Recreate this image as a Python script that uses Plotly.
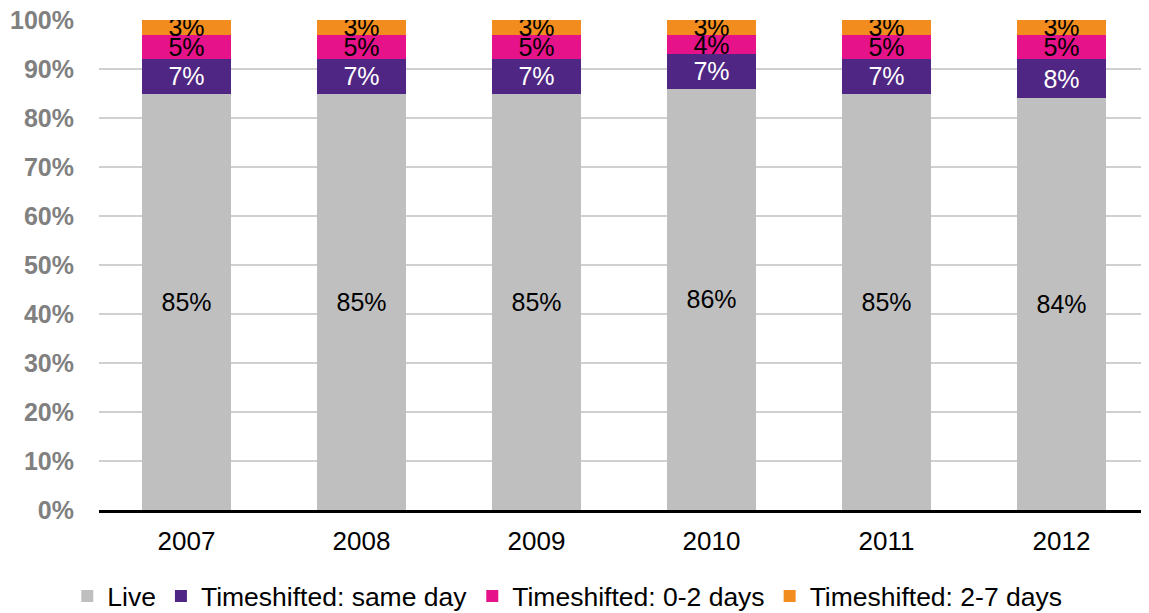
import plotly.graph_objects as go

years = ["2007", "2008", "2009", "2010", "2011", "2012"]
live = [85, 85, 85, 86, 85, 84]
same_day = [7, 7, 7, 7, 7, 8]
days_0_2 = [5, 5, 5, 4, 5, 5]
days_2_7 = [3, 3, 3, 3, 3, 3]

series = [
    ("Live", live, "#bfbfbf", "black"),
    ("Timeshifted: same day", same_day, "#4f2683", "white"),
    ("Timeshifted: 0-2 days", days_0_2, "#e6128a", "black"),
    ("Timeshifted: 2-7 days", days_2_7, "#f28c1e", "black"),
]

FONT = "Liberation Sans, Arial, sans-serif"

fig = go.Figure()
for name, vals, color, tcolor in series:
    fig.add_trace(go.Bar(
        x=years, y=vals, name=name,
        marker=dict(color=color, line=dict(width=0)),
        text=[f"{v}%" for v in vals],
        textposition="inside", insidetextanchor="middle",
        constraintext="none", textangle=0,
        textfont=dict(family=FONT, size=25, color=tcolor),
        hoverinfo="skip",
    ))

# page body has an 8px margin; size the figure so it ends at the window edge
fig.update_layout(
    barmode="stack", bargap=0.49,
    width=1141, height=605,
    margin=dict(l=91, r=0, t=12, b=103, autoexpand=False),
    paper_bgcolor="white", plot_bgcolor="white",
    font=dict(family=FONT, size=26, color="black"),
    legend=dict(orientation="h", x=0.446, xanchor="center", y=-0.176, yanchor="middle",
                font=dict(size=26.5), traceorder="normal"),
)
fig.update_xaxes(showline=True, linecolor="black", linewidth=3, ticks="",
                 tickfont=dict(size=26, color="black"), showgrid=False,
                 automargin=False, ticklabelstandoff=6)
fig.update_yaxes(range=[0, 100], dtick=10, ticksuffix="%", showgrid=True,
                 gridcolor="#d0d0d0", gridwidth=2, zeroline=False,
                 tickfont=dict(size=25, color="#808080", family=FONT, weight="bold"),
                 ticklabelstandoff=24, automargin=False, ticklabeloverflow="allow")

fig.write_html("out.html")
